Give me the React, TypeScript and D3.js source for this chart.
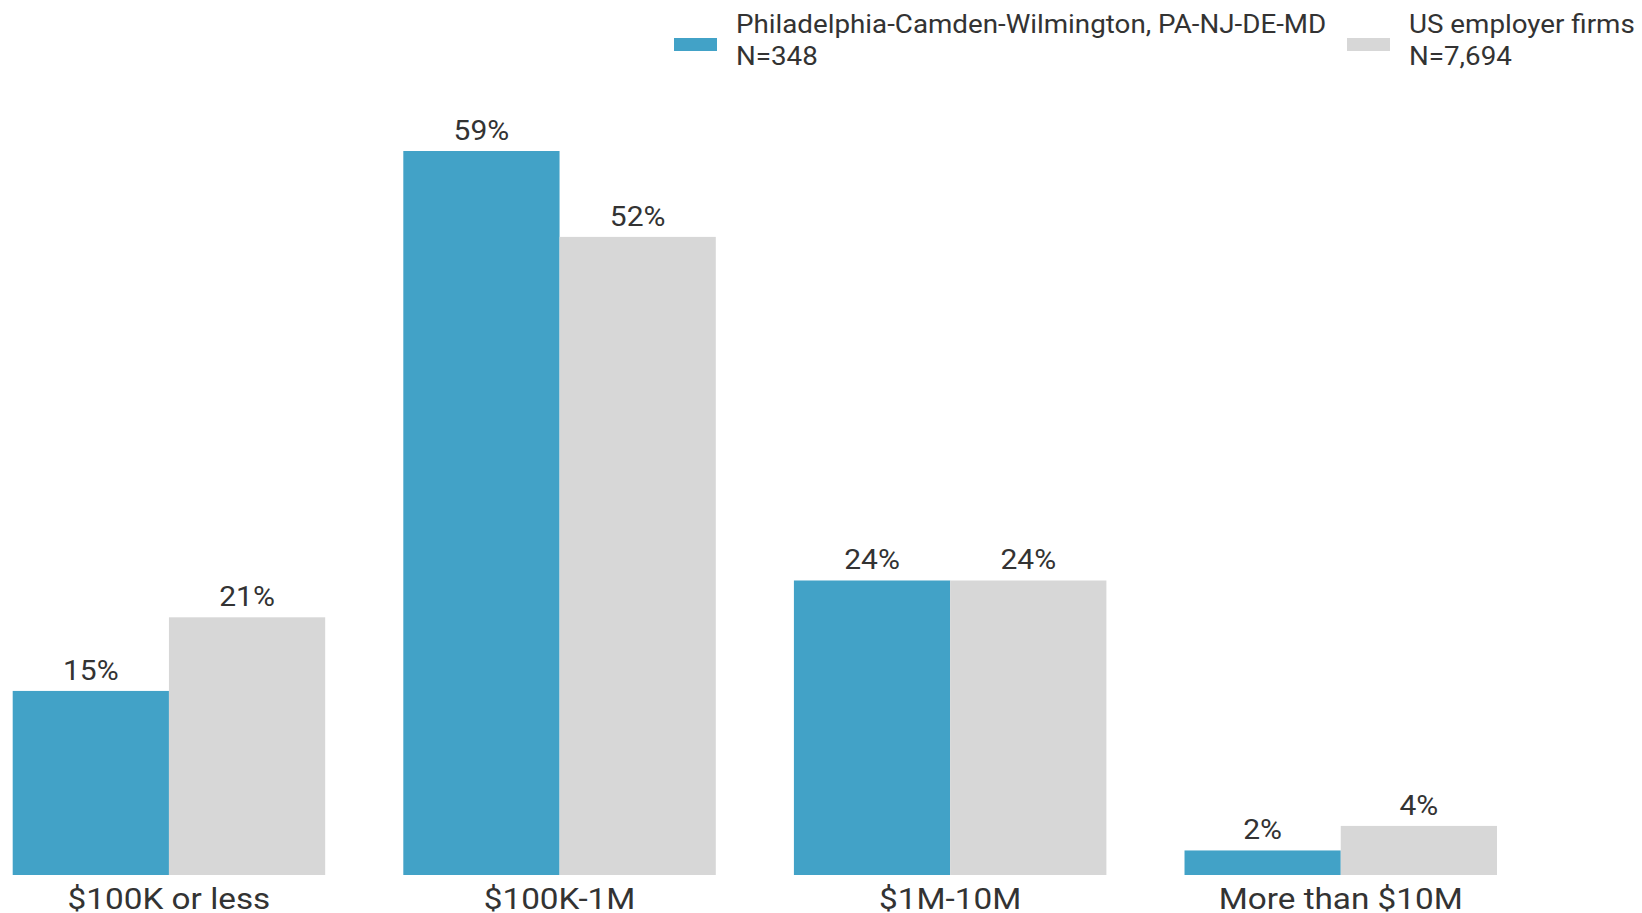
import React from "react";
import * as d3 from "d3";

const categories = ["$100K or less", "$100K-1M", "$1M-10M", "More than $10M"];
const seriesNames = ["Philadelphia-Camden-Wilmington, PA-NJ-DE-MD", "US employer firms"];
const seriesN = ["N=348", "N=7,694"];
const phillyValues = [15, 59, 24, 2];
const usValues = [21, 52, 24, 4];
const colors = ["#42A2C7", "#D7D7D7"];

const W = 1642;
const H = 913;
const FONT = "Roboto, 'Noto Sans', sans-serif";
const TEXT = "#333333";
const SX = 1.11;

function T(props: { x: number; y: number; size: number; anchor?: string; children: React.ReactNode }) {
  return (
    <text
      transform={`translate(${props.x},${props.y}) scale(${SX},1)`}
      textAnchor={props.anchor || "start"}
      fontSize={props.size}
      fill={TEXT}
    >
      {props.children}
    </text>
  );
}

export default function App() {
  const x0 = d3.scaleBand<string>().domain(categories).range([12.7, 1497]).paddingInner(0.2).paddingOuter(0);
  const x1 = d3.scaleBand<number>().domain([0, 1]).range([0, x0.bandwidth()]).padding(0);
  const y = d3.scaleLinear().domain([0, 59]).range([875, 151]);
  const series = [phillyValues, usValues];
  const legendX = [674, 1347];

  return (
    <svg width={W} height={H} style={{ position: "absolute", left: 0, top: 0, background: "#fff" }} fontFamily={FONT}>
      {categories.map((c, i) => (
        <g key={c} transform={`translate(${x0(c)},0)`}>
          {series.map((vals, s) => (
            <g key={s}>
              <rect
                x={x1(s)}
                y={y(vals[i])}
                width={x1.bandwidth()}
                height={y(0) - y(vals[i])}
                fill={colors[s]}
              />
              <T x={(x1(s) as number) + x1.bandwidth() / 2} y={y(vals[i]) - 11} size={27} anchor="middle">
                {vals[i]}%
              </T>
            </g>
          ))}
          <T x={x0.bandwidth() / 2} y={909} size={30} anchor="middle">
            {c}
          </T>
        </g>
      ))}
      {seriesNames.map((name, s) => (
        <g key={name} transform={`translate(${legendX[s]},0)`}>
          <rect x={0} y={38} width={43} height={13} fill={colors[s]} />
          <T x={62} y={33} size={25}>{name}</T>
          <T x={62} y={65} size={25}>{seriesN[s]}</T>
        </g>
      ))}
    </svg>
  );
}
